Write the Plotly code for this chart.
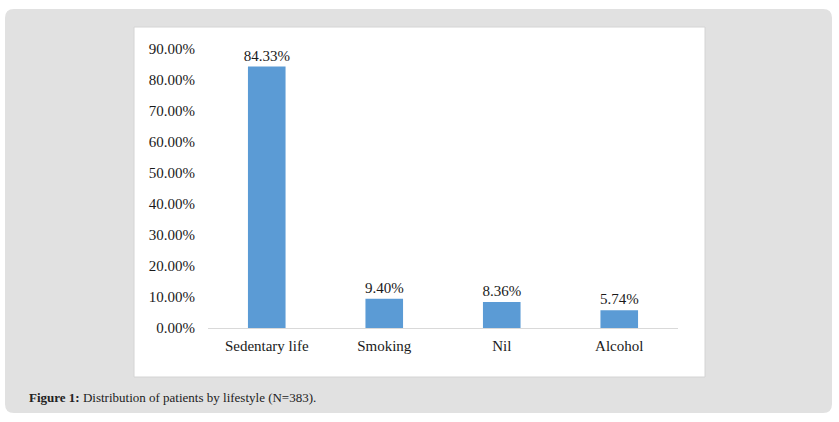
import plotly.graph_objects as go

# data
categories = ["Sedentary life", "Smoking", "Nil", "Alcohol"]
percentages = [84.33, 9.40, 8.36, 5.74]
y_ticks = [0, 10, 20, 30, 40, 50, 60, 70, 80, 90]
y_tick_labels = [f"{v:.2f}%" for v in y_ticks]

W, H = 839, 422
ML, MR, MT, MB = 208, 161, 49, 94
PW = W - ML - MR
PH = H - MT - MB


def px(x):
    """pixel x -> paper x"""
    return (x - ML) / PW


def py(y):
    """pixel y (from top) -> paper y"""
    return (H - MB - y) / PH


def rounded_rect(x0, y0, x1, y1, r):
    a, b, c, d = px(x0), px(x1), py(y0), py(y1)
    rx = r / PW
    ry = r / PH
    return (f"M {a + rx} {c} L {b - rx} {c} Q {b} {c} {b} {c - ry} "
            f"L {b} {d + ry} Q {b} {d} {b - rx} {d} "
            f"L {a + rx} {d} Q {a} {d} {a} {d + ry} "
            f"L {a} {c - ry} Q {a} {c} {a + rx} {c} Z")


fig = go.Figure(go.Bar(
    x=categories,
    y=percentages,
    marker=dict(color="#5b9bd5", line=dict(width=0)),
    texttemplate="%{y:.2f}%",
    textposition="outside",
    constraintext="none",
    textfont=dict(family="Liberation Serif", size=15, color="#1a1a1a"),
    cliponaxis=False,
))

fig.update_layout(
    width=W,
    height=H,
    margin=dict(l=ML, r=MR, t=MT, b=MB),
    paper_bgcolor="white",
    plot_bgcolor="rgba(0,0,0,0)",
    bargap=0.68,
    showlegend=False,
    font=dict(family="Liberation Serif", size=15, color="#1a1a1a"),
    shapes=[
        # gray outer panel
        dict(type="path", xref="paper", yref="paper", layer="below",
             path=rounded_rect(5, 9, 832, 413, 9),
             fillcolor="#e1e1e1", line=dict(width=0)),
        # white chart box
        dict(type="rect", xref="paper", yref="paper", layer="below",
             x0=px(134), x1=px(705), y0=py(377), y1=py(27),
             fillcolor="white", line=dict(color="#d4d4d4", width=1)),
    ],
    annotations=[
        dict(text="<b>Figure 1:</b> Distribution of patients by lifestyle (N=383).",
             xref="paper", yref="paper", x=px(27), y=py(397),
             xanchor="left", yanchor="middle", showarrow=False,
             font=dict(family="Liberation Serif", size=13, color="#222222")),
    ],
)

fig.update_xaxes(
    showline=True, linecolor="#d9d9d9", linewidth=1,
    ticks="", showgrid=False, ticklabelstandoff=4,
)
fig.update_yaxes(
    range=[0, 90], tickvals=y_ticks, ticktext=y_tick_labels,
    showgrid=False, zeroline=False, showline=False, ticks="",
    ticklabelstandoff=12,
)

# page body has a default 8px margin; drop it so the figure sits at 0,0
fig.write_html("out.html", config={"displayModeBar": False},
               post_script="document.body.style.margin='0';")
